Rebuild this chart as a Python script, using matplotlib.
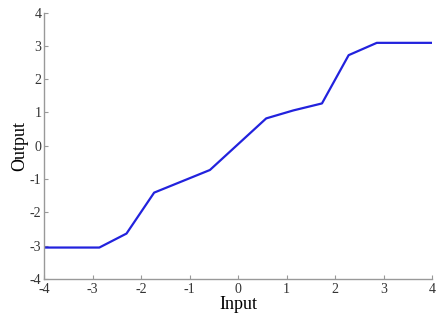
import matplotlib
matplotlib.use('Agg')
import matplotlib.pyplot as plt

# breakpoints of the piecewise-linear curve
inputs = [-4, -2.86, -2.3, -1.73, -0.58, 0.58, 1.14, 1.73, 2.28, 2.86, 4]
outputs = [-3.06, -3.06, -2.64, -1.41, -0.73, 0.82, 1.06, 1.27, 2.72, 3.09, 3.09]
ticks = [-4, -3, -2, -1, 0, 1, 2, 3, 4]

plt.rcParams['font.family'] = ['Liberation Serif', 'DejaVu Serif']
plt.rcParams['axes.unicode_minus'] = False

fig = plt.figure(figsize=(4.36, 3.14), dpi=100)
ax = fig.add_axes([0.101, 0.112, 0.890, 0.848])

ax.plot(inputs, outputs, color='#2222dd', linewidth=1.6)

ax.set_xlim(-4, 4)
ax.set_ylim(-4, 4)
ax.set_xticks(ticks)
ax.set_yticks(ticks)

for side in ['top', 'right']:
    ax.spines[side].set_visible(False)
for side in ['left', 'bottom']:
    ax.spines[side].set_color('#999999')
    ax.spines[side].set_linewidth(1.0)

ax.tick_params(direction='in', length=3, width=0.8, color='#999999',
               labelsize=10, labelcolor='#333333')
ax.tick_params(axis='x', pad=3)
ax.tick_params(axis='y', pad=2)

ax.set_xlabel('Input', fontsize=13, labelpad=0)
ax.set_ylabel('Output', fontsize=13, labelpad=1)

fig.savefig('out.png', dpi=100)
